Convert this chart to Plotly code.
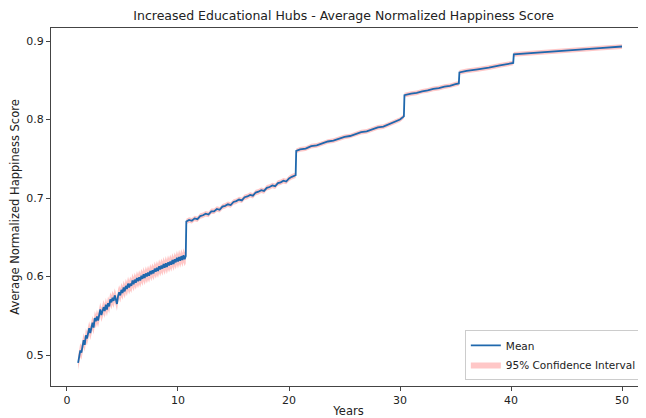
import plotly.graph_objects as go

# ---- data ----
years_s1 = [1.0, 1.1, 1.2, 1.3, 1.4, 1.5, 1.6, 1.7, 1.8, 1.9,
            2.0, 2.1, 2.2, 2.3, 2.4, 2.5, 2.6, 2.7, 2.8, 2.9,
            3.0, 3.1, 3.2, 3.3, 3.4, 3.5, 3.6, 3.7, 3.8, 3.9,
            4.0, 4.1, 4.2, 4.3, 4.4, 4.5, 4.6, 4.7, 4.8, 4.9,
            5.0, 5.1, 5.2, 5.3, 5.4, 5.5, 5.6, 5.7, 5.8, 5.9,
            6.0, 6.1, 6.2, 6.3, 6.4, 6.5, 6.6, 6.7, 6.8, 6.9,
            7.0, 7.1, 7.2, 7.3, 7.4, 7.5, 7.6, 7.7, 7.8, 7.9,
            8.0, 8.1, 8.2, 8.3, 8.4, 8.5, 8.6, 8.7, 8.8, 8.9,
            9.0, 9.1, 9.2, 9.3, 9.4, 9.5, 9.6, 9.7, 9.8, 9.9,
            10.0, 10.1, 10.2, 10.3, 10.4, 10.5, 10.6, 10.7]
mean_s1 = [0.490, 0.500, 0.506, 0.503, 0.514, 0.519, 0.513, 0.525, 0.521, 0.530,
           0.534, 0.528, 0.537, 0.541, 0.535, 0.547, 0.543, 0.549, 0.544, 0.553,
           0.558, 0.551, 0.556, 0.561, 0.556, 0.564, 0.558, 0.566, 0.562, 0.571,
           0.567, 0.573, 0.569, 0.576, 0.571, 0.565, 0.575, 0.580, 0.576, 0.583,
           0.579, 0.586, 0.581, 0.588, 0.584, 0.591, 0.586, 0.591, 0.588, 0.595,
           0.590, 0.596, 0.592, 0.598, 0.594, 0.599, 0.595, 0.601, 0.597, 0.603,
           0.598, 0.604, 0.600, 0.605, 0.601, 0.607, 0.603, 0.608, 0.604, 0.610,
           0.606, 0.611, 0.607, 0.613, 0.609, 0.614, 0.610, 0.616, 0.611, 0.617,
           0.612, 0.618, 0.614, 0.619, 0.615, 0.621, 0.616, 0.622, 0.618, 0.624,
           0.619, 0.625, 0.620, 0.626, 0.621, 0.627, 0.622, 0.626]

years_s2 = [10.75, 11.0, 11.25, 11.5, 11.75, 12.0, 12.25, 12.5, 12.75, 13.0,
            13.25, 13.5, 13.75, 14.0, 14.25, 14.5, 14.75, 15.0, 15.25, 15.5,
            15.75, 16.0, 16.25, 16.5, 16.75, 17.0, 17.25, 17.5, 17.75, 18.0,
            18.25, 18.5, 18.75, 19.0, 19.25, 19.5, 19.75, 20.0, 20.25, 20.6]
mean_s2 = [0.670, 0.672, 0.671, 0.674, 0.673, 0.677, 0.678, 0.680, 0.679, 0.683,
           0.683, 0.686, 0.685, 0.689, 0.690, 0.692, 0.691, 0.695, 0.696, 0.698,
           0.697, 0.701, 0.702, 0.704, 0.703, 0.707, 0.708, 0.710, 0.709, 0.713,
           0.714, 0.716, 0.715, 0.719, 0.720, 0.722, 0.721, 0.725, 0.727, 0.729]

years_s3 = [20.65, 21.0, 21.5, 22.0, 22.5, 23.0, 23.5, 24.0, 24.5, 25.0,
            25.5, 26.0, 26.5, 27.0, 27.5, 28.0, 28.5, 29.0, 29.5, 30.0, 30.35]
mean_s3 = [0.760, 0.762, 0.763, 0.766, 0.767, 0.770, 0.772, 0.773, 0.776, 0.778,
           0.779, 0.782, 0.784, 0.785, 0.788, 0.790, 0.791, 0.794, 0.796, 0.800, 0.804]

years_s4 = [30.4, 31.0, 31.5, 32.0, 32.5, 33.0, 33.5, 34.0, 34.5, 35.0, 35.3]
mean_s4 = [0.831, 0.833, 0.834, 0.836, 0.837, 0.839, 0.840, 0.842, 0.843, 0.845, 0.846]

years_s5 = [35.35, 36.0, 37.0, 38.0, 39.0, 40.0, 40.2]
mean_s5 = [0.860, 0.862, 0.864, 0.866, 0.869, 0.871, 0.872]

years_s6 = [40.25, 42.0, 44.0, 46.0, 48.0, 50.0]
mean_s6 = [0.883, 0.885, 0.887, 0.889, 0.891, 0.893]

# half-width of the 95% CI per segment
ci_half_by_segment = [0.009, 0.0035, 0.003, 0.003, 0.003, 0.003]

x_ticks = [0, 10, 20, 30, 40, 50]
y_ticks = [0.5, 0.6, 0.7, 0.8, 0.9]

# ---- build series ----
segments = [(years_s1, mean_s1), (years_s2, mean_s2), (years_s3, mean_s3),
            (years_s4, mean_s4), (years_s5, mean_s5), (years_s6, mean_s6)]
years, mean, lower, upper = [], [], [], []
for (xs, ys), h in zip(segments, ci_half_by_segment):
    years += xs
    mean += ys
    lower += [v - h for v in ys]
    upper += [v + h for v in ys]

fig = go.Figure()
fig.add_trace(go.Scatter(x=years, y=lower, mode="lines", line=dict(width=0),
                         showlegend=False, hoverinfo="skip"))
fig.add_trace(go.Scatter(x=years, y=upper, mode="lines", line=dict(width=0),
                         fill="tonexty", fillcolor="rgba(255,0,0,0.22)",
                         name="95% Confidence Interval", legendrank=2))
fig.add_trace(go.Scatter(x=years, y=mean, mode="lines",
                         line=dict(color="#1f68ad", width=1.8),
                         name="Mean", legendrank=1))

axis_common = dict(showgrid=False, zeroline=False, showline=True,
                   linecolor="#444", linewidth=1, ticks="outside",
                   ticklen=4, tickcolor="#444", automargin=False,
                   tickfont=dict(size=11, color="#222"))

# page body adds an 8px margin, so the figure is drawn 8px smaller
fig.update_layout(
    width=638, height=410,
    margin=dict(l=43, r=0, t=20, b=32),
    paper_bgcolor="white", plot_bgcolor="white",
    font=dict(family="DejaVu Sans", color="#222"),
    title=dict(text="Increased Educational Hubs - Average Normalized Happiness Score",
               x=0.526, xanchor="center", y=0.981, yanchor="middle",
               font=dict(size=12.5, color="#222")),
    xaxis=dict(range=[-1.44, 52.16], tickvals=x_ticks, mirror=True,
               title=dict(text="Years", font=dict(size=11.5), standoff=2),
               **axis_common),
    yaxis=dict(range=[0.4605, 0.9166], tickvals=y_ticks, tickformat=".1f",
               title=dict(text="Average Normalized Happiness Score",
                          font=dict(size=11.5), standoff=6),
               **axis_common),
    legend=dict(x=0.993, y=0.017, xanchor="right", yanchor="bottom",
                traceorder="normal", itemwidth=30,
                bgcolor="rgba(255,255,255,0.85)", bordercolor="#ccc",
                borderwidth=1, font=dict(size=10.5, color="#222"),
                tracegroupgap=0),
)

fig.write_html("out.html")
